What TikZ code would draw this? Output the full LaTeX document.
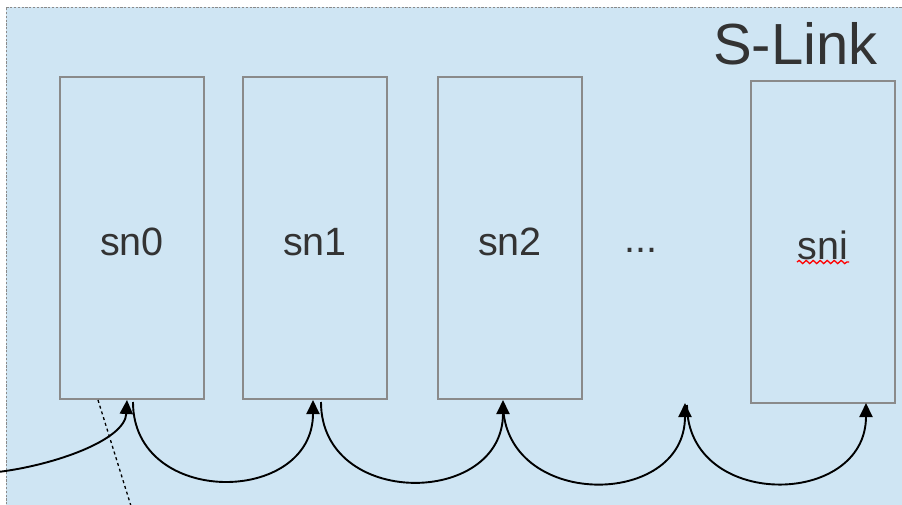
\documentclass[tikz,border=0pt]{standalone}
\usepackage{fontspec}
\setmainfont{Liberation Sans}
\usetikzlibrary{arrows.meta,decorations.pathmorphing,calc}
\definecolor{bgblue}{RGB}{207,229,243}
\definecolor{boxgray}{RGB}{138,138,138}
\definecolor{txtgray}{RGB}{51,51,51}
\tikzset{
  snbox/.style={draw=boxgray, line width=1.4pt, minimum width=144pt, minimum height=322pt, inner sep=0pt, text=txtgray, text height=34pt, text depth=0pt, font=\fontsize{39.5}{42}\selectfont},
  link/.style={line width=1.9pt, -{Triangle[width=13pt,length=14pt]}},
}
\begin{document}
\begin{tikzpicture}[x=1pt,y=-1pt]
\useasboundingbox (0,0) rectangle (902,505);
\clip (0,0) rectangle (902,505);
\fill[bgblue] (6,7) rectangle (910,512);
\draw[boxgray, line width=0.9pt, dash pattern=on 2.2pt off 1.6pt] (6,512) -- (6,7) -- (910,7);
\node[anchor=base east, text=txtgray, font=\fontsize{58}{60}\selectfont] (title) at (881,65) {S-Link};
\node[snbox] (sn0) at (132,238) {sn0};
\node[snbox] (sn1) at (315,238) {sn1};
\node[snbox] (sn2) at (510,238) {sn2};
\node[snbox] (sni) at (823,242) {sni};
\node[anchor=base, text=txtgray, font=\fontsize{39.5}{42}\selectfont] (dots) at (641,252) {...};
\draw[red, line width=1.3pt, decorate, decoration={snake, amplitude=1.6pt, segment length=7pt}] ($(sni.center)+(-26,20)$) -- ($(sni.center)+(26,20)$);
% tips and starts
\coordinate (t0) at (127,400);
\coordinate (s0) at (133,402);
\coordinate (t1) at (313,400);
\coordinate (s1) at (321,402);
\coordinate (t2) at (503,400);
\coordinate (s2) at (503,403);
\coordinate (t3) at (685,403);
\coordinate (s3) at (687,405);
\coordinate (t4) at (866,403);
\coordinate (in) at (-2,472);
\coordinate (d0) at (98,400);
\coordinate (d1) at (131,506);
\draw[link] (s0) to[out=-90, in=-90, looseness=1.5] (t1);
\draw[link] (s1) to[out=-90, in=-90, looseness=1.5] (t2);
\draw[link] (s2) to[out=-90, in=-90, looseness=1.5] (t3);
\draw[link] (s3) to[out=-90, in=-90, looseness=1.5] (t4);
\draw[link] (in) .. controls (55,465) and (125,440) .. (t0);
\draw[line width=1.3pt, dash pattern=on 3pt off 3pt] (d0) -- (d1);
\end{tikzpicture}
\end{document}
